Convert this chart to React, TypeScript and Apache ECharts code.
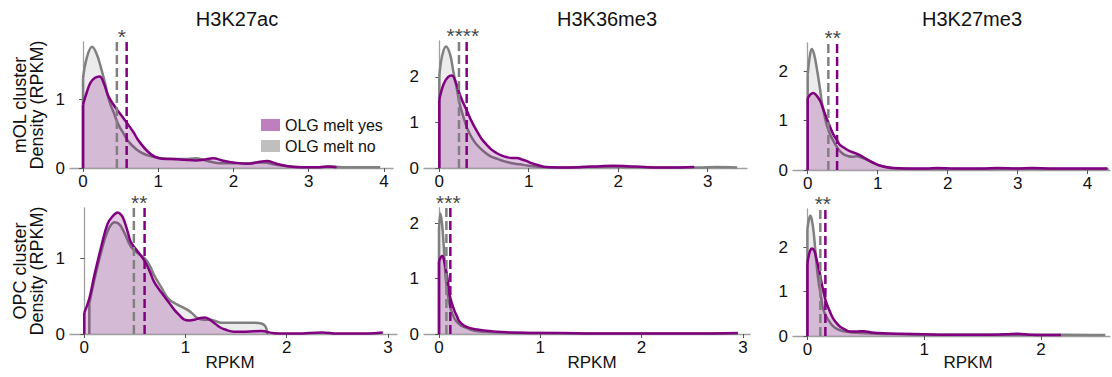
import React, { useEffect, useRef } from "react";
import * as echarts from "echarts";

const markNames = ["H3K27ac", "H3K36me3", "H3K27me3"];
const clusterNames = ["mOL cluster", "OPC cluster"];
const yesName = "OLG melt yes";
const noName = "OLG melt no";
const xAxisName = "RPKM";
const yAxisSuffix = "Density (RPKM)";

// density curves [RPKM, density]
const molK27acNo = [[0, 1.3], [0.05, 1.6], [0.12, 1.76], [0.18, 1.66], [0.24, 1.45], [0.3, 1.2], [0.35, 0.97], [0.41, 0.8], [0.47, 0.63], [0.54, 0.5], [0.6, 0.39], [0.7, 0.28], [0.78, 0.22], [0.87, 0.18], [0.95, 0.16], [1.05, 0.14], [1.2, 0.13], [1.35, 0.13], [1.5, 0.14], [1.6, 0.12], [1.7, 0.09], [1.82, 0.07], [2.0, 0.07], [2.2, 0.07], [2.4, 0.08], [2.55, 0.05], [2.7, 0.03], [2.9, 0.01], [3.1, 0.01], [3.3, 0.02], [3.5, 0.01], [3.7, 0.01], [3.95, 0.01]];
const molK27acYes = [[0, 0.92], [0.05, 1.1], [0.1, 1.24], [0.16, 1.31], [0.22, 1.33], [0.28, 1.22], [0.33, 1.06], [0.4, 0.93], [0.47, 0.82], [0.54, 0.72], [0.6, 0.63], [0.67, 0.52], [0.73, 0.41], [0.8, 0.31], [0.86, 0.24], [0.93, 0.18], [1.0, 0.145], [1.1, 0.13], [1.2, 0.13], [1.35, 0.12], [1.5, 0.11], [1.6, 0.12], [1.73, 0.14], [1.85, 0.11], [2.0, 0.08], [2.2, 0.06], [2.35, 0.09], [2.45, 0.1], [2.55, 0.07], [2.7, 0.03], [2.9, 0.01], [3.1, 0.01], [3.25, 0.02], [3.37, 0.01]];
const molK36No = [[0, 2.0], [0.03, 2.45], [0.075, 2.67], [0.12, 2.5], [0.157, 2.12], [0.2, 1.7], [0.23, 1.39], [0.27, 1.12], [0.31, 0.88], [0.36, 0.68], [0.42, 0.51], [0.5, 0.36], [0.57, 0.26], [0.65, 0.2], [0.72, 0.15], [0.8, 0.11], [0.9, 0.08], [1.0, 0.05], [1.1, 0.03], [1.3, 0.01], [1.6, 0.02], [1.9, 0.03], [2.1, 0.02], [2.5, 0.01], [2.9, 0.01], [3.1, 0.02], [3.33, 0.01]];
const molK36Yes = [[0, 1.5], [0.05, 1.85], [0.1, 2.0], [0.14, 2.03], [0.19, 1.85], [0.23, 1.61], [0.27, 1.42], [0.31, 1.25], [0.36, 1.03], [0.42, 0.81], [0.47, 0.65], [0.53, 0.51], [0.58, 0.41], [0.64, 0.33], [0.7, 0.27], [0.75, 0.24], [0.81, 0.22], [0.87, 0.22], [0.92, 0.19], [0.98, 0.15], [1.04, 0.1], [1.09, 0.07], [1.2, 0.02], [1.4, 0.01], [1.6, 0.02], [1.8, 0.04], [1.95, 0.05], [2.1, 0.04], [2.3, 0.02], [2.5, 0.01], [2.7, 0.01], [2.85, 0.02]];
const molK27me3No = [[0, 1.93], [0.03, 2.3], [0.057, 2.45], [0.09, 2.35], [0.13, 2.06], [0.17, 1.7], [0.2, 1.39], [0.235, 1.14], [0.27, 0.92], [0.32, 0.72], [0.37, 0.58], [0.42, 0.46], [0.46, 0.38], [0.52, 0.31], [0.58, 0.28], [0.64, 0.27], [0.7, 0.28], [0.77, 0.25], [0.84, 0.21], [0.92, 0.16], [0.99, 0.11], [1.1, 0.06], [1.25, 0.03], [1.5, 0.02], [2.0, 0.02], [2.5, 0.02], [3.0, 0.03], [3.5, 0.02], [4.0, 0.02], [4.3, 0.02]];
const molK27me3Yes = [[0, 1.45], [0.04, 1.53], [0.08, 1.56], [0.13, 1.5], [0.18, 1.39], [0.22, 1.24], [0.27, 1.05], [0.32, 0.87], [0.37, 0.71], [0.42, 0.6], [0.46, 0.51], [0.53, 0.44], [0.6, 0.38], [0.68, 0.34], [0.77, 0.28], [0.83, 0.23], [0.89, 0.18], [0.96, 0.13], [1.03, 0.09], [1.12, 0.06], [1.22, 0.04], [1.4, 0.03], [1.7, 0.03], [1.85, 0.04], [2.1, 0.03], [2.5, 0.03], [2.7, 0.04], [3.0, 0.03], [3.2, 0.04], [3.5, 0.03], [3.9, 0.03], [4.28, 0.03]];
const opcK27acNo = [[0.05, 0.4], [0.1, 0.72], [0.17, 1.1], [0.23, 1.36], [0.3, 1.48], [0.35, 1.45], [0.4, 1.33], [0.46, 1.16], [0.53, 1.07], [0.6, 1.0], [0.65, 0.9], [0.69, 0.78], [0.76, 0.62], [0.83, 0.47], [0.92, 0.39], [1.02, 0.32], [1.07, 0.27], [1.12, 0.21], [1.18, 0.19], [1.25, 0.19], [1.35, 0.15], [1.48, 0.15], [1.6, 0.15], [1.68, 0.15], [1.75, 0.14], [1.79, 0.1], [1.81, 0.0]];
const opcK27acYes = [[0, 0.28], [0.05, 0.47], [0.1, 0.78], [0.17, 1.17], [0.23, 1.46], [0.28, 1.56], [0.33, 1.61], [0.37, 1.57], [0.4, 1.48], [0.43, 1.35], [0.46, 1.22], [0.53, 1.09], [0.6, 0.96], [0.65, 0.82], [0.69, 0.69], [0.74, 0.59], [0.79, 0.5], [0.84, 0.41], [0.89, 0.32], [0.94, 0.25], [0.99, 0.19], [1.04, 0.18], [1.09, 0.19], [1.14, 0.21], [1.19, 0.22], [1.24, 0.19], [1.29, 0.14], [1.34, 0.09], [1.39, 0.06], [1.48, 0.03], [1.6, 0.03], [1.75, 0.04], [1.88, 0.01], [2.1, 0.005], [2.35, 0.02], [2.5, 0.005], [2.8, 0.005], [2.95, 0.02]];
const opcK36No = [[0, 1.9], [0.014, 2.18], [0.03, 2.0], [0.046, 1.61], [0.066, 1.01], [0.085, 0.75], [0.105, 0.53], [0.135, 0.35], [0.17, 0.23], [0.22, 0.15], [0.27, 0.11], [0.35, 0.06], [0.45, 0.04], [0.6, 0.03], [0.8, 0.02], [1.0, 0.02], [1.5, 0.01], [2.0, 0.01], [2.5, 0.01], [2.95, 0.01]];
const opcK36Yes = [[0, 1.31], [0.015, 1.38], [0.033, 1.41], [0.05, 1.33], [0.073, 1.13], [0.09, 0.92], [0.105, 0.71], [0.13, 0.54], [0.155, 0.41], [0.18, 0.31], [0.2, 0.23], [0.25, 0.15], [0.3, 0.11], [0.38, 0.08], [0.47, 0.06], [0.57, 0.04], [0.67, 0.03], [0.9, 0.02], [1.2, 0.02], [1.5, 0.01], [2.0, 0.01], [2.5, 0.01], [2.95, 0.02]];
const opcK27me3No = [[0, 2.42], [0.015, 2.65], [0.026, 2.72], [0.04, 2.6], [0.054, 2.34], [0.066, 2.0], [0.077, 1.67], [0.09, 1.35], [0.105, 1.07], [0.12, 0.83], [0.134, 0.62], [0.16, 0.45], [0.19, 0.32], [0.23, 0.2], [0.28, 0.13], [0.35, 0.09], [0.45, 0.07], [0.6, 0.05], [0.8, 0.04], [1.0, 0.03], [1.3, 0.03], [1.6, 0.03], [1.9, 0.03], [2.2, 0.03], [2.55, 0.02]];
const opcK27me3Yes = [[0, 1.63], [0.02, 1.9], [0.04, 1.98], [0.06, 1.92], [0.077, 1.75], [0.1, 1.5], [0.12, 1.22], [0.14, 0.98], [0.16, 0.77], [0.19, 0.57], [0.22, 0.4], [0.25, 0.29], [0.28, 0.21], [0.32, 0.15], [0.36, 0.1], [0.42, 0.1], [0.48, 0.11], [0.55, 0.08], [0.65, 0.06], [0.8, 0.05], [1.0, 0.04], [1.2, 0.03], [1.5, 0.03], [1.7, 0.04], [1.8, 0.05], [1.9, 0.03], [2.0, 0.02], [2.17, 0.02]];

// mean RPKM (dashed lines) and significance
const meansNo = [0.45, 0.22, 0.295, 0.49, 0.073, 0.111];
const meansYes = [0.58, 0.306, 0.42, 0.596, 0.112, 0.154];
const stars = ["*", "****", "**", "**", "***", "**"];

// axis ranges and ticks
const xMins = [-0.173, -0.171, -0.21, -0.141, -0.148, -0.123];
const xMaxs = [4.12, 3.44, 4.32, 3.09, 3.07, 2.59];
const yMaxs = [1.83, 2.79, 2.57, 1.67, 2.28, 2.87];
const xTicks = [[0, 1, 2, 3, 4], [0, 1, 2, 3], [0, 1, 2, 3, 4], [0, 1, 2, 3], [0, 1, 2, 3], [0, 1, 2]];
const yTicks = [[0, 1], [0, 1, 2], [0, 1, 2], [0, 1], [0, 1, 2], [0, 1, 2]];

const curvesNo = [molK27acNo, molK36No, molK27me3No, opcK27acNo, opcK36No, opcK27me3No];
const curvesYes = [molK27acYes, molK36Yes, molK27me3Yes, opcK27acYes, opcK36Yes, opcK27me3Yes];

const grids = [
  { left: 70, top: 42, width: 323, height: 126 },
  { left: 424, top: 41, width: 323, height: 127 },
  { left: 793, top: 43, width: 317, height: 127 },
  { left: 70, top: 208, width: 327, height: 126 },
  { left: 424, top: 208, width: 326, height: 126 },
  { left: 793, top: 209, width: 317, height: 127 },
];
const titleX = [237, 607, 972];
const xNameX = [230, 592, 968];

const FONT = "'Liberation Sans', Arial, sans-serif";
const TXT = "#111";
const AX = "#a0a0a0";
const GRAY = "#808080";
const PURPLE = "#800080";

export default function App() {
  const ref = useRef<HTMLDivElement>(null);
  useEffect(() => {
    const chart = echarts.init(ref.current!, null, { renderer: "svg" });
    const series: any[] = [];
    for (let i = 0; i < 6; i++) {
      const common = { xAxisIndex: i, yAxisIndex: i, symbol: "none", showSymbol: false, silent: true };
      const no = curvesNo[i];
      const yes = curvesYes[i];
      series.push({
        ...common, type: "line", name: noName, data: no, smooth: 0.4, z: 2,
        lineStyle: { color: GRAY, width: 2.5 }, itemStyle: { color: GRAY },
        areaStyle: { color: "rgba(128,128,128,0.22)" },
      });
      series.push({
        ...common, type: "line", data: [[no[0][0], 0], no[0]], z: 2,
        lineStyle: { color: GRAY, width: 2.5 },
      });
      series.push({
        ...common, type: "line", name: yesName, data: yes, smooth: 0.4, z: 3,
        lineStyle: { color: PURPLE, width: 2.5 }, itemStyle: { color: PURPLE },
        areaStyle: { color: "rgba(128,0,128,0.3)" },
      });
      series.push({
        ...common, type: "line", data: [[yes[0][0], 0], yes[0]], z: 3,
        lineStyle: { color: PURPLE, width: 2.5 },
      });
      series.push({
        ...common, type: "line", data: [[meansNo[i], 0], [meansNo[i], yMaxs[i]]], z: 5,
        lineStyle: { color: GRAY, width: 2.5, type: [9, 4] },
      });
      series.push({
        ...common, type: "line", data: [[meansYes[i], 0], [meansYes[i], yMaxs[i]]], z: 5,
        lineStyle: { color: PURPLE, width: 2.5, type: [9, 4] },
      });
      series.push({
        ...common, type: "scatter", symbol: "circle", symbolSize: 1, clip: false, z: 6,
        itemStyle: { color: "rgba(0,0,0,0)" },
        data: [[(meansNo[i] + meansYes[i]) / 2, yMaxs[i]]],
        label: {
          show: true, position: "top", distance: 0, offset: [0, 5],
          formatter: stars[i], fontSize: 21, color: TXT, fontFamily: FONT,
        },
      });
    }

    const option: any = {
      animation: false,
      textStyle: { fontFamily: FONT },
      grid: grids.map((g) => ({ ...g, containLabel: false })),
      xAxis: grids.map((_, i) => ({
        type: "value", gridIndex: i, min: xMins[i], max: xMaxs[i],
        axisLine: { show: true, onZero: false, lineStyle: { color: AX, width: 1.3 } },
        axisTick: { show: true, length: 4, customValues: xTicks[i], lineStyle: { color: "#555" } },
        axisLabel: { customValues: xTicks[i], fontSize: 17, color: TXT, margin: 5, fontFamily: FONT },
        splitLine: { show: false },
      })),
      yAxis: grids.map((_, i) => ({
        type: "value", gridIndex: i, min: 0, max: yMaxs[i],
        axisLine: { show: true, lineStyle: { color: AX, width: 1.3 } },
        axisTick: { show: true, length: 4, customValues: yTicks[i], lineStyle: { color: "#555" } },
        axisLabel: { customValues: yTicks[i], fontSize: 17, color: TXT, margin: 5, fontFamily: FONT },
        splitLine: { show: false },
        name: i % 3 === 0 ? clusterNames[i / 3] + "\n" + yAxisSuffix : "",
        nameLocation: "middle", nameGap: 25,
        nameTextStyle: { fontSize: 18, lineHeight: 17, color: TXT, fontFamily: FONT },
      })),
      legend: {
        show: true, left: 256, top: 112, orient: "vertical",
        itemWidth: 19, itemHeight: 12, itemGap: 5, selectedMode: false,
        textStyle: { fontSize: 16, color: TXT, lineHeight: 12, fontFamily: FONT },
        data: [
          { name: yesName, icon: "rect", itemStyle: { color: "rgba(128,0,128,0.5)", borderWidth: 0 } },
          { name: noName, icon: "rect", itemStyle: { color: "rgba(128,128,128,0.5)", borderWidth: 0 } },
        ],
      },
      graphic: [
        ...markNames.map((t, k) => ({
          type: "text", x: titleX[k], y: 19,
          style: { text: t, fontSize: 20, fill: TXT, align: "center", verticalAlign: "middle", fontFamily: FONT },
        })),
        ...xNameX.map((x) => ({
          type: "text", x, y: 362,
          style: { text: xAxisName, fontSize: 17, fill: TXT, align: "center", verticalAlign: "middle", fontFamily: FONT },
        })),
      ],
      series,
    };
    chart.setOption(option);
    return () => chart.dispose();
  }, []);
  return <div ref={ref} style={{ position: "fixed", left: 0, top: 0, width: 1112, height: 377, background: "#fff" }} />;
}
